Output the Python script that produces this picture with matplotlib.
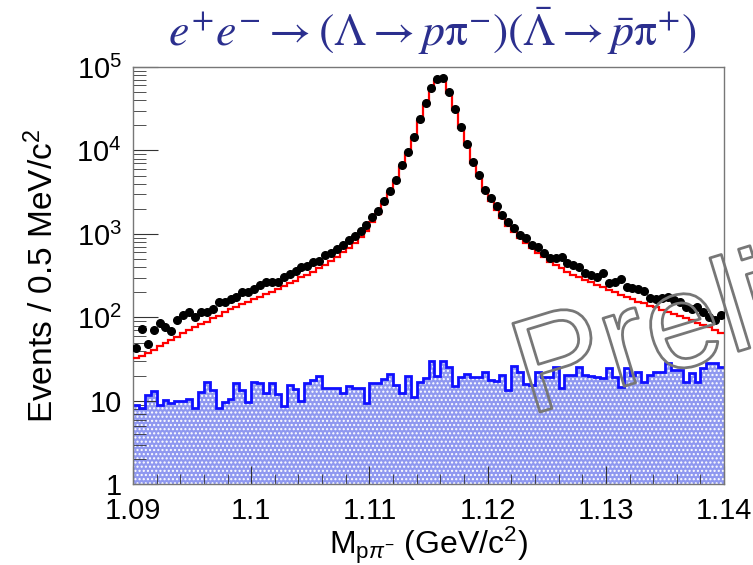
import numpy as np
import matplotlib
matplotlib.use("Agg")
import matplotlib.pyplot as plt
import matplotlib.patheffects as pe
from matplotlib.ticker import FixedLocator, FuncFormatter, LogLocator, NullFormatter

plt.rcParams['font.family'] = ['Liberation Sans', 'DejaVu Sans']
plt.rcParams['mathtext.fontset'] = 'custom'
plt.rcParams['mathtext.rm'] = 'Liberation Sans'
plt.rcParams['mathtext.it'] = 'Liberation Sans:italic'
plt.rcParams['hatch.linewidth'] = 1.0

# M(p pi-) histogram, 0.5 MeV bins from 1.09 to 1.14 GeV
x_lo, x_hi = 1.09, 1.14

data = [43, 72, 48, 71, 85, 76, 69, 93, 107, 117,
        102, 117, 115, 126, 155, 155, 166, 178, 200, 204,
        219, 245, 269, 263, 269, 309, 331, 363, 407, 417,
        468, 479, 562, 589, 661, 741, 851, 933, 1072, 1288,
        1585, 1905, 2455, 3273, 4436, 6699, 9683, 14622, 23660, 36728,
        55590, 72000, 73000, 50700, 31400, 19280, 11860, 7345, 5093, 3388,
        2692, 2138, 1698, 1403, 1169, 973, 887, 738, 705, 587,
        512, 512, 535, 446, 426, 406, 338, 323, 308, 338,
        256, 269, 286, 234, 223, 219, 209, 170, 165, 170,
        175, 162, 155, 135, 125, 135, 117, 102, 93, 107]

mc = [33, 35, 38, 41, 46, 49, 54, 59, 65, 71,
      76, 83, 89, 98, 105, 115, 126, 135, 145, 155,
      166, 178, 191, 204, 219, 240, 257, 275, 302, 324,
      355, 389, 427, 479, 537, 603, 676, 776, 912, 1096,
      1380, 1738, 2291, 3090, 4266, 6310, 9333, 14125, 22387, 34674,
      52481, 68400, 68400, 48978, 30200, 18621, 11482, 7079, 4898, 3236,
      2455, 1950, 1549, 1259, 1047, 891, 776, 676, 589, 525,
      468, 427, 389, 355, 324, 302, 282, 263, 245, 229,
      214, 200, 186, 178, 166, 155, 148, 138, 132, 123,
      117, 110, 105, 98, 93, 87, 81, 76, 71, 66]

bkg = [9.0, 8.2, 11.8, 13.3, 9.0, 10.3, 9.4, 10.0, 10.0, 10.5,
       8.2, 12.7, 17.0, 13.5, 8.2, 9.8, 10.5, 16.3, 13.5, 9.8,
       17.0, 16.3, 12.4, 16.6, 12.0, 8.7, 15.6, 13.8, 10.0, 16.6,
       17.8, 19.9, 14.2, 14.2, 14.2, 12.4, 15.1, 14.2, 14.2, 9.5,
       16.3, 16.3, 18.2, 20.9, 15.6, 12.4, 19.9, 11.3, 17.0, 18.7,
       30.4, 19.9, 30.4, 25.8, 15.1, 19.2, 20.9, 19.5, 19.2, 22.1,
       17.8, 17.5, 20.5, 13.5, 26.3, 22.4, 16.0, 15.6, 22.4, 19.5,
       19.5, 25.8, 14.2, 20.5, 20.5, 25.8, 20.5, 20.0, 19.5, 18.7,
       24.6, 19.5, 14.8, 24.6, 20.5, 22.4, 17.0, 20.5, 22.4, 22.4,
       28.3, 23.5, 23.5, 17.0, 21.4, 17.0, 24.6, 28.3, 28.3, 25.8]

xticks = [1.09, 1.10, 1.11, 1.12, 1.13, 1.14]
xticklabels = ['1.09', '1.1', '1.11', '1.12', '1.13', '1.14']

edges = np.linspace(x_lo, x_hi, len(data) + 1)
centers = 0.5 * (edges[:-1] + edges[1:])

fig = plt.figure(figsize=(7.53, 5.65), dpi=100)
ax = fig.add_axes([0.1766, 0.1425, 0.785, 0.739])
ax.set_yscale('log')

# background: hatched blue fill + blue outline
ax.stairs(bkg, edges, baseline=0.5, fill=True, facecolor='#8f98f0',
          edgecolor='white', hatch='....', linewidth=0, zorder=1)
ax.stairs(bkg, edges, baseline=None, color='#1010ff', linewidth=2.0, zorder=2)
# MC
ax.stairs(mc, edges, baseline=None, color='#ff0000', linewidth=1.6, zorder=3)
# data
ax.plot(centers, data, 'o', color='black', markersize=5.5, zorder=4)

ax.set_xlim(x_lo, x_hi)
ax.set_ylim(1, 1e5)

ax.xaxis.set_major_locator(FixedLocator(xticks))
ax.set_xticklabels(xticklabels)
ax.xaxis.set_minor_locator(FixedLocator(np.arange(1.09, 1.1401, 0.002)))


def ylab(v, pos):
    if v == 1:
        return '1'
    if v == 10:
        return '10'
    return '$10^{%d}$' % int(round(np.log10(v)))


ax.yaxis.set_major_locator(LogLocator(base=10, numticks=10))
ax.yaxis.set_major_formatter(FuncFormatter(ylab))
ax.yaxis.set_minor_locator(LogLocator(base=10, subs=np.arange(2, 10), numticks=20))
ax.yaxis.set_minor_formatter(NullFormatter())

ax.tick_params(axis='both', which='both', direction='in', top=False, right=False,
               color='#333333', labelsize=21)
ax.tick_params(axis='y', which='major', length=18, pad=8)
ax.tick_params(axis='y', which='minor', length=9)
ax.tick_params(axis='x', which='major', length=13, pad=9)
ax.tick_params(axis='x', which='minor', length=7)
for s in ax.spines.values():
    s.set_color('#777777')
    s.set_linewidth(1.0)

ax.set_ylabel('Events / 0.5 MeV/c$^{2}$', fontsize=24, labelpad=12)
ax.set_xlabel(r'M$_{\mathrm{p}\pi^{-}}$ (GeV/c$^{2}$)', fontsize=23, labelpad=0)

fig.text(0.574, 0.945,
         r'$e^{+}e^{-}\rightarrow(\Lambda\rightarrow p\mathrm{\pi}^{-})'
         r'(\bar{\Lambda}\rightarrow\bar{p}\mathrm{\pi}^{+})$',
         ha='center', va='center', fontsize=33, color='#2b2f8e', math_fontfamily='stix')

wm = fig.text(0.703, 0.265, 'Preliminary', fontsize=97, rotation=17,
              rotation_mode='anchor', ha='left', va='baseline', color='none', zorder=10)
wm.set_path_effects([pe.Stroke(linewidth=2.0, foreground='#777777'), pe.Normal()])

fig.savefig('out.png', dpi=100)
